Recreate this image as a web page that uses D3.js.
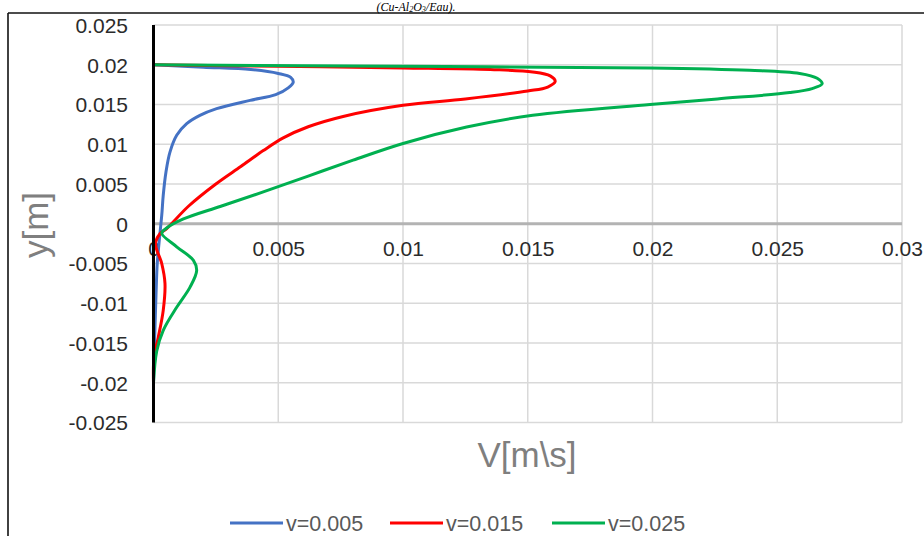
<!DOCTYPE html>
<html>
<head>
<meta charset="utf-8">
<script src="https://cdn.jsdelivr.net/npm/d3@7"></script>
<style>
  html, body { margin: 0; padding: 0; background: #fff; }
  svg { display: block; }
</style>
</head>
<body>
<svg id="chart" width="924" height="536"></svg>
<script>
// Velocity profiles V(y) across the channel for three inlet velocities
const seriesNames = ["v=0.005", "v=0.015", "v=0.025"];
const seriesColors = ["#4472C4", "#FF0000", "#00B050"];

const vel005_V = [0, 0.0020, 0.0039, 0.0050, 0.0055, 0.0056, 0.0054, 0.0049, 0.00387, 0.00253, 0.00186, 0.00133, 0.00093, 0.00066, 0.0005, 0.00039, 0.00033, 0.00025, 0.00015, 0.0001, 0.00006, 0.00002, 0];
const vel005_y = [0.02, 0.0197, 0.0194, 0.0189, 0.0184, 0.0178, 0.0171, 0.01624, 0.01552, 0.01448, 0.01363, 0.01259, 0.01112, 0.00901, 0.0065, 0.00356, 0.00104, -0.0015, -0.005, -0.009, -0.013, -0.017, -0.02];

const vel015_V = [0, 0.0050, 0.0100, 0.0135, 0.0152, 0.0159, 0.0161, 0.0158, 0.0150, 0.0125, 0.0100, 0.0076, 0.0062, 0.0052, 0.0044, 0.0035, 0.0025, 0.0014, 0.00053, 0.00026, 0.00008, 0.00033, 0.00046, 0.00039, 0.00019, 0.00002, 0];
const vel015_y = [0.02, 0.0198, 0.0196, 0.0194, 0.0191, 0.0186, 0.0179, 0.0172, 0.0167, 0.0157, 0.0149, 0.0135, 0.0122, 0.0108, 0.0092, 0.0072, 0.0050, 0.0022, -0.0006, -0.00126, -0.0025, -0.005, -0.0075, -0.0109, -0.0143, -0.0168, -0.02];

const vel025_V = [0, 0.0100, 0.0199, 0.0239, 0.0259, 0.0266, 0.0268, 0.0264, 0.0255, 0.0226, 0.0199, 0.0152, 0.01255, 0.0100, 0.0080, 0.0062, 0.0044, 0.0027, 0.0012, 0.0005, 0.00033, 0.00093, 0.0016, 0.00173, 0.00146, 0.00093, 0.00039, 0.00013, 0];
const vel025_y = [0.02, 0.0198, 0.0196, 0.0193, 0.0189, 0.0183, 0.0176, 0.0170, 0.0165, 0.0157, 0.0150, 0.01364, 0.01216, 0.0101, 0.0080, 0.0060, 0.0040, 0.0022, 0.0006, -0.0006, -0.0012, -0.0029, -0.0046, -0.0059, -0.008, -0.0105, -0.0134, -0.016, -0.02];

const xTicks = [0, 0.005, 0.01, 0.015, 0.02, 0.025, 0.03];
const yTicks = [0.025, 0.02, 0.015, 0.01, 0.005, 0, -0.005, -0.01, -0.015, -0.02, -0.025];
const xTitle = "V[m\\s]";
const yTitle = "y[m]";

const seriesData = [
  vel005_V.map((v, i) => ({ v, y: vel005_y[i] })),
  vel015_V.map((v, i) => ({ v, y: vel015_y[i] })),
  vel025_V.map((v, i) => ({ v, y: vel025_y[i] }))
];

const svg = d3.select("#chart");
const font = "'Liberation Sans', Arial, sans-serif";

// Frame lines around the figure
svg.append("line").attr("x1", 8).attr("x2", 924).attr("y1", 13).attr("y2", 13)
  .attr("stroke", "#111").attr("stroke-width", 1.6);
svg.append("line").attr("x1", 8).attr("x2", 8).attr("y1", 13).attr("y2", 536)
  .attr("stroke", "#111").attr("stroke-width", 1.6);

// Caption text above the frame
const cap = svg.append("text")
  .attr("x", 416).attr("y", 10.5)
  .attr("text-anchor", "middle")
  .attr("font-family", "'Liberation Serif', 'Times New Roman', serif")
  .attr("font-style", "italic")
  .attr("font-size", 12)
  .attr("fill", "#000");
cap.append("tspan").text("(Cu-Al");
cap.append("tspan").attr("font-size", 8).attr("dy", 1.5).text("2");
cap.append("tspan").attr("dy", -1.5).text("O");
cap.append("tspan").attr("font-size", 8).attr("dy", 1.5).text("3");
cap.append("tspan").attr("dy", -1.5).text("/Eau).");

const x = d3.scaleLinear().domain([0, 0.03]).range([153.5, 902]);
const y = d3.scaleLinear().domain([-0.025, 0.025]).range([422.5, 25]);

// Gridlines
const grid = svg.append("g");
grid.selectAll(".gx").data(xTicks.slice(1)).join("line")
  .attr("x1", d => x(d)).attr("x2", d => x(d))
  .attr("y1", y(0.025)).attr("y2", y(-0.025))
  .attr("stroke", "#d9d9d9").attr("stroke-width", 1.5);
grid.selectAll(".gy").data(yTicks.filter(d => d !== 0)).join("line")
  .attr("x1", x(0)).attr("x2", x(0.03))
  .attr("y1", d => y(d)).attr("y2", d => y(d))
  .attr("stroke", "#d9d9d9").attr("stroke-width", 1.5);

// Horizontal axis at y = 0
svg.append("line")
  .attr("x1", x(0)).attr("x2", x(0.03))
  .attr("y1", y(0)).attr("y2", y(0))
  .attr("stroke", "#b3b3b3").attr("stroke-width", 3);

// Y tick labels
const yAxis = d3.axisLeft(y).tickValues(yTicks).tickSize(0).tickPadding(0)
  .tickFormat(d => d3.format("~g")(d).replace("−", "-"));
const gy = svg.append("g").attr("transform", "translate(128,0)").call(yAxis);
gy.select(".domain").remove();
gy.selectAll("text").attr("font-family", font).attr("font-size", 21).attr("fill", "#2b2b2b")
  .attr("dy", "0.35em");

// X tick labels below the zero line
const xAxis = d3.axisBottom(x).tickValues(xTicks).tickSize(0).tickPadding(0)
  .tickFormat(d => d3.format("~g")(d));
const gx = svg.append("g").attr("transform", `translate(0,${y(0) + 32})`).call(xAxis);
gx.select(".domain").remove();
gx.selectAll("text").attr("font-family", font).attr("font-size", 21).attr("fill", "#2b2b2b")
  .attr("dy", "0").attr("y", 0);

// Series curves, smoothed through the sampled points
const line = d3.line()
  .x(d => x(d.v)).y(d => y(d.y))
  .curve(d3.curveCatmullRom.alpha(0.5));
svg.append("g").selectAll("path").data(seriesData).join("path")
  .attr("d", line)
  .attr("fill", "none")
  .attr("stroke", (d, i) => seriesColors[i])
  .attr("stroke-width", 3)
  .attr("stroke-linejoin", "round")
  .attr("stroke-linecap", "round");

// Vertical axis
svg.append("line")
  .attr("x1", x(0)).attr("x2", x(0))
  .attr("y1", y(0.025)).attr("y2", y(-0.025))
  .attr("stroke", "#000").attr("stroke-width", 3);

// Axis titles
svg.append("text")
  .attr("x", 527).attr("y", 467)
  .attr("text-anchor", "middle")
  .attr("font-family", font).attr("font-size", 35)
  .attr("fill", "#7f7f7f")
  .text(xTitle);
svg.append("text")
  .attr("transform", "translate(48,225) rotate(-90)")
  .attr("text-anchor", "middle")
  .attr("font-family", font).attr("font-size", 35)
  .attr("fill", "#7f7f7f")
  .text(yTitle);

// Legend
const legendX = [230, 390, 552];
const lg = svg.append("g").selectAll("g").data(seriesNames).join("g")
  .attr("transform", (d, i) => `translate(${legendX[i]},523)`);
lg.append("line").attr("x1", 0).attr("x2", 53).attr("y1", 0).attr("y2", 0)
  .attr("stroke", (d, i) => seriesColors[i]).attr("stroke-width", 3);
lg.append("text").attr("x", 56).attr("y", 0).attr("dy", "0.35em")
  .attr("font-family", font).attr("font-size", 21.5).attr("fill", "#595959")
  .text(d => d);
</script>
</body>
</html>
